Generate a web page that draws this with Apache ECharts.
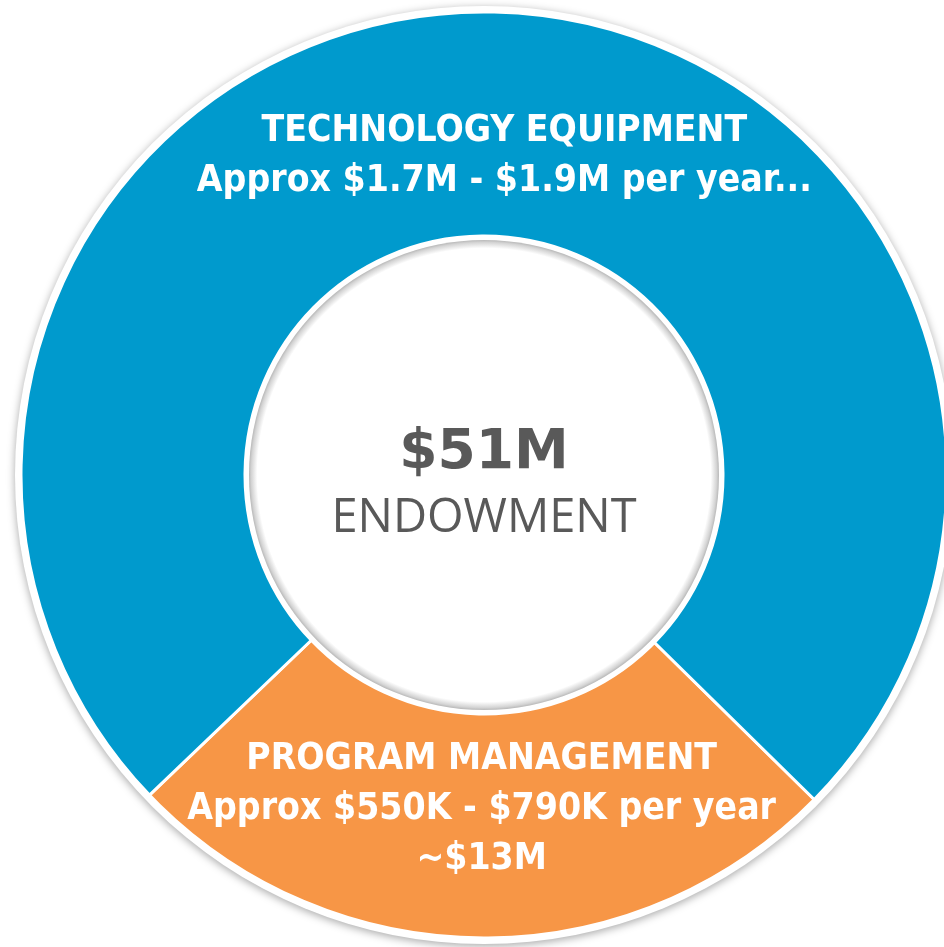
<!DOCTYPE html>
<html>
<head>
<meta charset="utf-8">
<script src="https://cdn.jsdelivr.net/npm/echarts@6/dist/echarts.min.js"></script>
<style>
  html, body { margin: 0; padding: 0; background: #fff; }
  #chart { width: 944px; height: 947px; }
</style>
</head>
<body>
<div id="chart"></div>
<script>
// slices, orange first so it sits at the bottom
const categories = ['PROGRAM MANAGEMENT', 'TECHNOLOGY EQUIPMENT']
const values = [13, 38]
const subLabels = [
  ['Approx $550K - $790K per year', '~$13M'],
  ['Approx $1.7M - $1.9M per year...']
]
const colors = ['#F79646', '#009ACD']
const totalLabel = '$51M'
const centerLabel = 'ENDOWMENT'

const CX = 484
const CY = 475
const R_IN = 239
const R_OUT = 463
const labelFont = '"DejaVu Sans Condensed", sans-serif'

const chart = echarts.init(document.getElementById('chart'), null, { renderer: 'canvas' })

// spacer lines/spans push the label block off the ring middle
function sliceLabel(i) {
  if (i === 0) {
    return [categories[i]].concat(subLabels[i]).map((s) => '{t|' + s + '}').join('\n') + '\n{sp|}'
  }
  return '{sp2|}\n' + [categories[i]].concat(subLabels[i]).map((s) => '{sl|}{t|' + s + '}').join('\n')
}

const option = {
  animation: false,
  series: [
    // white halo + soft shadow behind the ring
    {
      type: 'pie',
      silent: true,
      center: [CX, CY],
      radius: [0, R_OUT + 6],
      label: { show: false },
      itemStyle: {
        color: '#fff',
        shadowBlur: 8,
        shadowColor: 'rgba(0,0,0,0.35)',
        shadowOffsetY: 2
      },
      data: [{ value: 1 }],
      z: 1
    },
    {
      type: 'pie',
      silent: true,
      center: [CX, CY],
      radius: [R_IN, R_OUT],
      startAngle: -44.5,
      clockwise: true,
      itemStyle: { borderColor: '#fff', borderWidth: 3 },
      label: {
        show: true,
        position: 'inside',
        rich: {
          t: {
            color: '#fff',
            fontFamily: labelFont,
            fontWeight: 'bold',
            fontSize: 37,
            lineHeight: 50
          },
          sl: { width: 36, fontSize: 1 },
          sp: { lineHeight: 40, fontSize: 1 },
          sp2: { lineHeight: 70, fontSize: 1 }
        }
      },
      labelLine: { show: false },
      data: categories.map((c, i) => ({
        name: c,
        value: values[i],
        itemStyle: { color: colors[i] },
        label: { formatter: sliceLabel(i) }
      })),
      z: 2
    },
    // centre disc with inner shadow rim
    {
      type: 'pie',
      silent: true,
      center: [CX, CY],
      radius: [0, R_IN - 4],
      itemStyle: {
        color: {
          type: 'radial', x: 0.5, y: 0.5, r: 0.5,
          colorStops: [
            { offset: 0, color: '#fff' },
            { offset: 0.965, color: '#fff' },
            { offset: 0.99, color: '#d4d4d4' },
            { offset: 1, color: '#b8b8b8' }
          ]
        }
      },
      label: {
        show: true,
        position: 'center',
        formatter: '{sp|}\n{a|' + totalLabel + '}\n{b|' + centerLabel + '}',
        rich: {
          sp: { lineHeight: 22, fontSize: 1 },
          a: {
            fontFamily: '"DejaVu Sans", sans-serif',
            fontWeight: 'bold',
            fontSize: 55,
            color: '#595959',
            lineHeight: 66
          },
          b: {
            fontFamily: '"Open Sans", sans-serif',
            fontSize: 47,
            color: '#595959',
            lineHeight: 64
          }
        }
      },
      data: [{ name: 'center', value: 1 }],
      z: 3
    }
  ]
}

chart.setOption(option)
</script>
</body>
</html>
